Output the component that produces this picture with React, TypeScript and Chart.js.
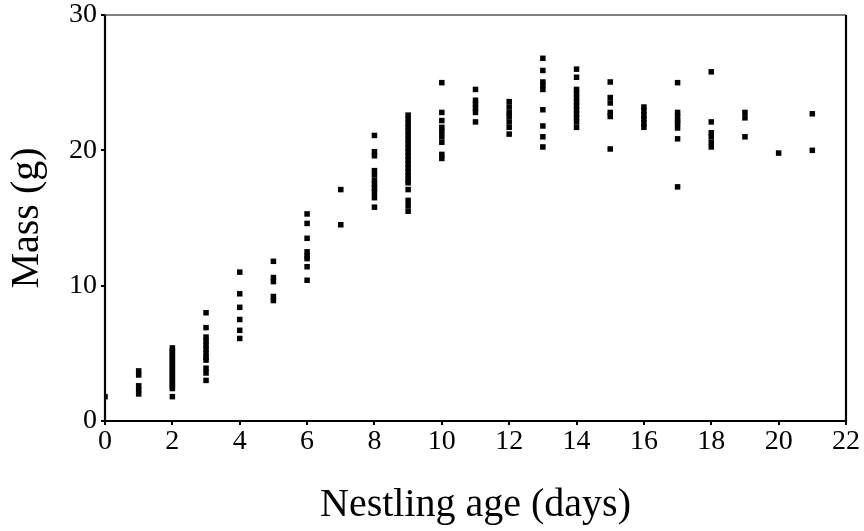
import React, { useEffect, useRef } from "react";
import { Chart, registerables } from "chart.js";

Chart.register(...registerables);

// Nestling age (days) for each column of points
const ageDays = [0, 1, 2, 3, 4, 5, 6, 7, 8, 9, 10, 11, 12, 13, 14, 15, 16, 17, 18, 19, 20, 21];

// Mass (g) measurements at each age
const massByAge: number[][] = [
  [1.8],
  [3.7, 3.4, 2.6, 2.3, 2.0],
  [5.4, 5.2, 5.0, 4.8, 4.6, 4.4, 4.2, 4.0, 3.8, 3.6, 3.4, 3.2, 3.0, 2.8, 2.6, 2.4, 1.8],
  [8.0, 6.9, 6.2, 5.9, 5.6, 5.3, 5.0, 4.7, 4.5, 3.9, 3.55, 3.0],
  [11.0, 9.4, 8.4, 7.5, 6.7, 6.1],
  [11.8, 10.6, 10.3, 9.2, 8.9],
  [15.3, 14.6, 13.5, 12.5, 12.2, 12.0, 11.4, 10.4],
  [17.1, 14.5],
  [21.1, 19.9, 19.6, 18.5, 18.2, 17.8, 17.5, 17.2, 16.9, 16.5, 15.8],
  [22.6, 22.3, 22.0, 21.7, 21.4, 21.1, 20.8, 20.5, 20.2, 19.9, 19.6, 19.3, 19.0, 18.7, 18.4, 18.1, 17.8, 17.6, 17.1, 16.3, 15.9, 15.5],
  [25.0, 22.8, 22.2, 21.7, 21.4, 21.0, 20.6, 19.7, 19.4],
  [24.5, 23.7, 23.4, 23.1, 22.8, 22.1],
  [23.6, 23.2, 22.8, 22.5, 22.1, 21.7, 21.2],
  [26.8, 25.9, 25.05, 24.8, 24.5, 23.0, 21.8, 21.0, 20.25],
  [26.0, 25.4, 24.5, 24.2, 23.9, 23.6, 23.3, 23.0, 22.7, 22.4, 22.1, 21.7],
  [25.05, 23.9, 23.5, 22.8, 22.5, 20.1],
  [23.2, 22.9, 22.6, 22.3, 22.0, 21.7],
  [25.0, 22.8, 22.5, 22.2, 22.0, 21.65, 20.85, 17.3],
  [25.8, 22.1, 21.3, 21.0, 20.6, 20.25],
  [22.8, 22.4, 21.0],
  [19.8],
  [22.7, 20.0],
];

const xTicks = [0, 2, 4, 6, 8, 10, 12, 14, 16, 18, 20, 22];
const yTicks = [0, 10, 20, 30];

const xTitle = "Nestling age (days)";
const yTitle = "Mass (g)";

const FONT = "'Liberation Serif', 'DejaVu Serif', serif";

const framePlugin = {
  id: "frame",
  beforeDatasetsDraw(chart: any) {
    const { ctx, chartArea } = chart;
    const { left, right, top, bottom } = chartArea;
    ctx.save();
    ctx.strokeStyle = "#000";
    ctx.lineWidth = 1.2;
    ctx.beginPath();
    ctx.moveTo(left, top);
    ctx.lineTo(right, top);
    ctx.stroke();
    ctx.lineWidth = 2.2;
    ctx.beginPath();
    ctx.moveTo(left, top);
    ctx.lineTo(left, bottom);
    ctx.lineTo(right, bottom);
    ctx.lineTo(right, top);
    ctx.stroke();
    ctx.restore();
  },
};

export default function App() {
  const ref = useRef<HTMLCanvasElement>(null);

  useEffect(() => {
    if (!ref.current) return;
    const points: { x: number; y: number }[] = [];
    ageDays.forEach((age, i) => {
      massByAge[i].forEach((m) => points.push({ x: age, y: m }));
    });

    const chart = new Chart(ref.current, {
      type: "scatter",
      data: {
        datasets: [
          {
            data: points,
            pointStyle: "rect",
            pointRadius: 3.9,
            pointHoverRadius: 3.9,
            backgroundColor: "#000",
            borderColor: "#000",
            borderWidth: 0,
          },
        ],
      },
      options: {
        responsive: false,
        animation: false,
        layout: { padding: { top: 15, right: 18, left: 0, bottom: 0 } },
        plugins: {
          legend: { display: false },
          tooltip: { enabled: false },
        },
        scales: {
          x: {
            type: "linear",
            min: 0,
            max: 22,
            afterFit: (s: any) => {
              s.height = 110;
              s.paddingLeft = 0;
              s.paddingRight = 0;
            },
            afterBuildTicks: (s: any) => {
              s.ticks = xTicks.map((v) => ({ value: v }));
            },
            border: { display: false },
            grid: {
              drawOnChartArea: false,
              drawTicks: true,
              tickLength: 4,
              color: "#000",
              lineWidth: 2,
            },
            ticks: {
              color: "#000",
              font: { family: FONT, size: 28 },
              padding: 0,
              maxRotation: 0,
            },
            title: {
              display: true,
              text: xTitle,
              color: "#000",
              font: { family: FONT, size: 40 },
              padding: { top: 0, bottom: 2 },
            },
          },
          y: {
            type: "linear",
            min: 0,
            max: 30,
            afterFit: (s: any) => {
              s.width = 105;
              s.paddingTop = 0;
              s.paddingBottom = 0;
            },
            afterBuildTicks: (s: any) => {
              s.ticks = yTicks.map((v) => ({ value: v }));
            },
            border: { display: false },
            grid: {
              drawOnChartArea: false,
              drawTicks: true,
              tickLength: 4,
              color: "#000",
              lineWidth: 2,
            },
            ticks: {
              color: "#000",
              font: { family: FONT, size: 28 },
              padding: 4,
            },
            title: {
              display: true,
              text: yTitle,
              color: "#000",
              font: { family: FONT, size: 40 },
              padding: { top: 3, bottom: 0 },
            },
          },
        },
      },
      plugins: [framePlugin],
    });
    return () => chart.destroy();
  }, []);

  return (
    <div style={{ position: "fixed", left: 0, top: 0, width: 864, height: 531, background: "#fff" }}>
      <canvas ref={ref} width={864} height={531} />
    </div>
  );
}
